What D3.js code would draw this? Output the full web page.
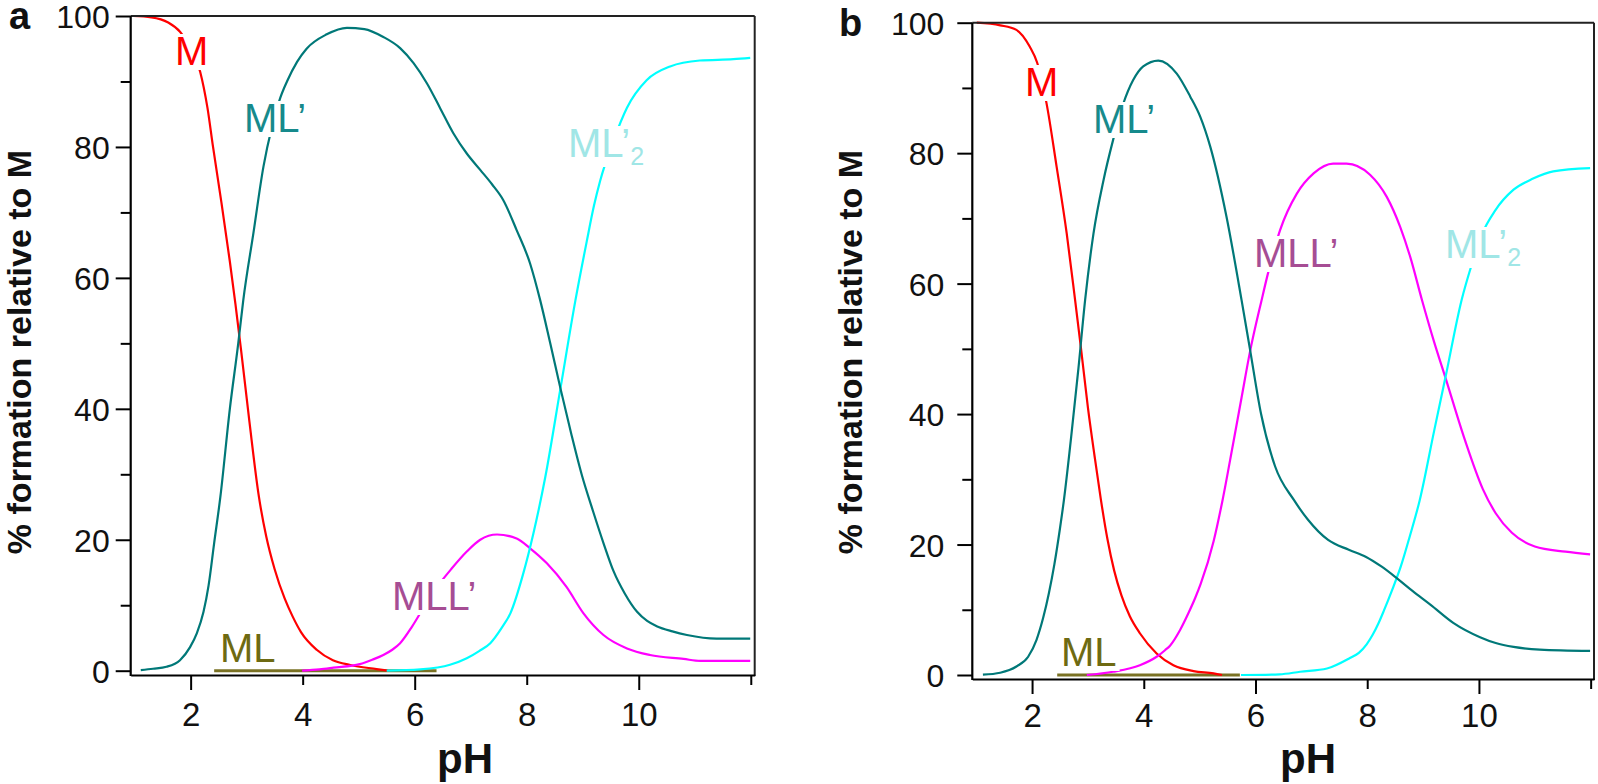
<!DOCTYPE html>
<html><head><meta charset="utf-8">
<script src="https://cdn.jsdelivr.net/npm/d3@7"></script>
<style>
body{margin:0;background:#fff;}
svg{display:block;font-family:"Liberation Sans",Arial,sans-serif;}
</style></head>
<body>
<svg id="chart" width="1598" height="784"></svg>
<script>
// ---------- DATA (pH, % formation relative to M) ----------
const xTicks = [2, 4, 6, 8, 10, 12];
const yTicks = [0, 10, 20, 30, 40, 50, 60, 70, 80, 90, 100];

// Panel a
const a_M   = [[0.97,100],[1.3,99.8],[1.6,99.0],[1.81,97.6],[2.0,95.2],[2.17,91.5],[2.30,86],[2.40,80],[2.55,71.5],[2.70,62.5],[2.80,56],[2.90,49],[3.05,38],[3.22,26.5],[3.35,20.5],[3.50,15.5],[3.68,11],[3.82,8.3],[3.97,5.9],[4.25,3.2],[4.54,1.6],[4.85,0.87],[5.32,0.25],[5.52,0]];
const a_MLp = [[1.11,0.1],[1.33,0.3],[1.57,0.6],[1.81,1.6],[1.99,3.6],[2.11,5.7],[2.23,9.0],[2.32,13],[2.42,19.5],[2.53,26.5],[2.70,40],[2.85,50],[2.94,56.6],[3.12,66.8],[3.30,77],[3.45,83],[3.60,87.5],[3.72,90],[3.90,93],[4.07,95],[4.43,97.2],[4.79,98.2],[5.10,98],[5.44,96.8],[5.74,95.1],[5.98,92.8],[6.22,89.7],[6.45,86],[6.69,82.1],[6.93,79],[7.17,76.5],[7.38,74.3],[7.58,71.9],[7.82,67.3],[8.06,62.2],[8.24,56.6],[8.42,50],[8.60,43.2],[8.80,36],[8.98,30],[9.19,24.2],[9.37,19.5],[9.55,15.2],[9.75,11.8],[9.97,9.0],[10.15,7.6],[10.32,6.8],[10.60,6.0],[10.86,5.45],[11.39,4.9],[11.99,4.9]];
const a_MLLp = [[3.99,0],[4.3,0.2],[4.55,0.46],[5.02,1.0],[5.25,1.7],[5.44,2.4],[5.60,3.2],[5.74,4.2],[5.95,6.7],[6.15,9.5],[6.40,12.8],[6.66,15.6],[6.93,18.2],[7.17,20.0],[7.47,20.8],[7.82,20.2],[8.06,18.7],[8.36,16.4],[8.71,12.8],[9.01,8.8],[9.37,5.45],[9.79,3.4],[10.2,2.4],[10.8,1.8],[11.1,1.5],[11.99,1.5]];
const a_MLp2 = [[5.50,0],[6.1,0.2],[6.63,0.9],[6.93,1.9],[7.15,3.0],[7.35,4.2],[7.55,6.5],[7.71,8.8],[7.94,14.9],[8.12,21],[8.33,29.5],[8.60,43],[8.87,56.6],[9.07,65.5],[9.20,71],[9.31,74.8],[9.55,81],[9.79,86.0],[10.14,90.2],[10.56,92.3],[11.09,93.2],[11.69,93.4],[11.99,93.6]];
const a_ML  = [[2.42,0],[6.39,0]];

// Panel b
const b_M   = [[1.01,100],[1.43,99.6],[1.72,98.9],[1.96,96.3],[2.09,93.9],[2.26,87.6],[2.44,77.9],[2.62,67.7],[2.77,57.5],[2.87,50.5],[3.0,41],[3.12,33.5],[3.23,27],[3.35,20.8],[3.47,16],[3.60,12.2],[3.75,9],[3.93,6.4],[4.23,3.3],[4.53,1.5],[4.89,0.6],[5.25,0.25],[5.4,0]];
const b_MLp = [[1.12,0.05],[1.43,0.35],[1.72,1.3],[1.93,2.8],[2.08,5.4],[2.20,8.8],[2.30,12.5],[2.40,17],[2.50,22.5],[2.57,26.8],[2.70,36.5],[2.83,47],[2.95,57.5],[3.10,67.7],[3.28,75.9],[3.45,82.0],[3.63,87.5],[3.81,91.2],[3.99,93.3],[4.26,94.2],[4.59,92.2],[4.83,88.7],[5.01,85.6],[5.19,81.0],[5.48,70.3],[5.75,57.5],[5.90,50],[6.1,40],[6.35,32],[6.69,26.8],[6.94,23.8],[7.30,20.7],[7.67,19.2],[7.98,18.1],[8.26,16.6],[8.55,14.7],[8.81,12.9],[9.13,10.8],[9.54,8.0],[10.02,5.8],[10.3,4.9],[10.62,4.3],[11.09,3.9],[11.99,3.7]];
const b_MLLp = [[2.98,0],[3.45,0.5],[3.93,1.5],[4.23,2.8],[4.38,3.8],[4.47,4.5],[4.65,6.9],[4.80,9.5],[4.92,11.8],[5.02,14.0],[5.25,20.5],[5.41,26.8],[5.6,35.5],[5.75,42.5],[5.9,49.5],[6.11,57.5],[6.23,61.8],[6.44,68.2],[6.74,73.8],[7.04,76.9],[7.39,78.4],[7.63,78.4],[8.05,76.7],[8.35,73.3],[8.59,68.7],[8.77,64.1],[8.98,57.5],[9.2,51],[9.4,45.6],[9.75,36],[10.07,28.5],[10.3,24.8],[10.59,21.8],[11.0,19.7],[11.55,18.9],[11.99,18.5]];
const b_MLp2 = [[5.74,0],[6.43,0.1],[6.80,0.5],[7.28,1.0],[7.69,2.6],[7.85,3.4],[7.99,4.7],[8.10,6.2],[8.20,7.9],[8.30,9.9],[8.44,12.9],[8.60,16.6],[8.76,21.2],[8.94,26.8],[9.2,37.5],[9.4,45.6],[9.69,57.5],[9.87,62.9],[10.05,67.5],[10.29,71.2],[10.62,74.4],[10.97,76.1],[11.33,77.2],[11.99,77.7]];
const b_ML  = [[2.45,0],[5.72,0]];

// ---------- DRAWING ----------
const svg = d3.select("#chart");
const FONT = '"Liberation Sans",Arial,sans-serif';
const colors = {M:"#ff0000", MLp:"#007878", MLLp:"#ff00ff", MLp2:"#00ffff", ML:"#7a7224"};
const labelColors = {M:"#ff0000", MLp:"#168a8c", MLLp:"#a64d94", MLp2:"#a0e6e6", ML:"#6e6a12"};

function panel(cfg){
  const g = svg.append("g");
  const x = d3.scaleLinear().domain(cfg.xDomain).range(cfg.xRange);
  const y = d3.scaleLinear().domain([0,100]).range(cfg.yRange);
  const line = d3.line().x(d=>x(d[0])).y(d=>y(d[1])).curve(d3.curveMonotoneX);

  // series
  g.append("path").datum(cfg.data.ML).attr("d", line).attr("fill","none")
    .attr("stroke", colors.ML).attr("stroke-width", 3);
  [["M",cfg.data.M],["MLLp",cfg.data.MLLp],["MLp2",cfg.data.MLp2],["MLp",cfg.data.MLp]].forEach(([k,d])=>{
    g.append("path").datum(d).attr("d", line).attr("fill","none")
      .attr("stroke", colors[k]).attr("stroke-width", 2.2).attr("stroke-linejoin","round");
  });

  // labels with white knockout
  cfg.labels.forEach(L=>{
    const lg = g.append("g");
    const r = lg.append("rect").attr("fill","#fff");
    const t = lg.append("text").attr("x", L.x).attr("y", L.y)
      .attr("font-size", 40).attr("fill", labelColors[L.k]).attr("font-family", FONT);
    t.append("tspan").text(L.text);
    if (L.sub) t.append("tspan").attr("font-size", 25).attr("dy", 8).text(L.sub);
    const bb = t.node().getBBox();
    r.attr("x", bb.x-3).attr("y", bb.y+5).attr("width", bb.width+6).attr("height", bb.height-8);
  });

  // border top/right
  g.append("line").attr("x1", cfg.xRange[0]).attr("x2", cfg.xRange[1]).attr("y1", cfg.yRange[1]).attr("y2", cfg.yRange[1])
    .attr("stroke","#222").attr("stroke-width",2);
  g.append("line").attr("x1", cfg.xRange[1]).attr("x2", cfg.xRange[1]).attr("y1", cfg.yRange[1]).attr("y2", cfg.axisY+1)
    .attr("stroke","#222").attr("stroke-width",2);

  // x axis
  const xa = d3.axisBottom(x).tickValues(xTicks).tickSizeOuter(0).tickSizeInner(15)
    .tickFormat(d => d===12 ? "" : d);
  const gx = g.append("g").attr("transform", `translate(0,${cfg.axisY})`).call(xa);
  gx.select(".domain").attr("stroke","#000").attr("stroke-width",2.2);
  gx.selectAll(".tick line").attr("stroke","#000").attr("stroke-width",2)
    .attr("y2", d => (d===4||d===8||d===12) ? 10 : 15);
  gx.selectAll(".tick text").attr("font-size",33).attr("font-family",FONT).attr("fill","#111")
    .attr("y", cfg.xLabelDy).attr("dy", 0);

  // y axis
  const ya = d3.axisLeft(y).tickValues(yTicks).tickSizeOuter(0).tickSizeInner(15)
    .tickFormat(d => d%20===0 ? d : "");
  const gy = g.append("g").attr("transform", `translate(${cfg.xRange[0]},0)`).call(ya);
  gy.select(".domain").attr("d", `M0,${cfg.yRange[1]}V${cfg.axisY+1}`).attr("stroke","#000").attr("stroke-width",2.2);
  gy.selectAll(".tick line").attr("stroke","#000").attr("stroke-width",2)
    .attr("x2", d => d%20===0 ? -15 : -10);
  gy.selectAll(".tick text").attr("font-size",32).attr("font-family",FONT).attr("fill","#111")
    .attr("x", cfg.yLabelDx).attr("dy", "0.36em");

  // axis titles
  g.append("text").attr("x", cfg.pHx).attr("y", 773).attr("text-anchor","middle")
    .attr("font-size",42).attr("font-weight","bold").attr("fill","#111").attr("font-family",FONT).text("pH");
  g.append("text").attr("transform", `translate(${cfg.yTitleX},${cfg.yTitleY}) rotate(-90)`)
    .attr("text-anchor","middle").attr("font-size",34).attr("font-weight","bold").attr("fill","#111")
    .attr("font-family",FONT).text("% formation relative to M");
  g.append("text").attr("x", cfg.letter.x).attr("y", cfg.letter.y)
    .attr("font-size",38).attr("font-weight","bold").attr("fill","#111").attr("font-family",FONT).text(cfg.letter.t);
}

panel({
  xDomain:[0.93,12.07], xRange:[130.7,754.7], yRange:[670.7,16], axisY:675,
  xLabelDy:51, yLabelDx:-21, pHx:465, yTitleX:31, yTitleY:352,
  letter:{x:9,y:29,t:"a"},
  data:{M:a_M, MLp:a_MLp, MLLp:a_MLLp, MLp2:a_MLp2, ML:a_ML},
  labels:[
    {k:"M", text:"M", x:175, y:65},
    {k:"MLp", text:"ML\u2019", x:244, y:132},
    {k:"MLp2", text:"ML\u2019", sub:"2", x:568, y:157},
    {k:"MLLp", text:"MLL\u2019", x:392, y:610},
    {k:"ML", text:"ML", x:220, y:662}
  ]
});
panel({
  xDomain:[0.93,12.06], xRange:[972.3,1594], yRange:[675,22.7], axisY:679,
  xLabelDy:47.7, yLabelDx:-28, pHx:1308, yTitleX:862, yTitleY:352,
  letter:{x:839,y:36,t:"b"},
  data:{M:b_M, MLp:b_MLp, MLLp:b_MLLp, MLp2:b_MLp2, ML:b_ML},
  labels:[
    {k:"M", text:"M", x:1025, y:96},
    {k:"MLp", text:"ML\u2019", x:1093, y:133},
    {k:"MLp2", text:"ML\u2019", sub:"2", x:1445, y:258},
    {k:"MLLp", text:"MLL\u2019", x:1254, y:267},
    {k:"ML", text:"ML", x:1061, y:666}
  ]
});
</script>
</body></html>
